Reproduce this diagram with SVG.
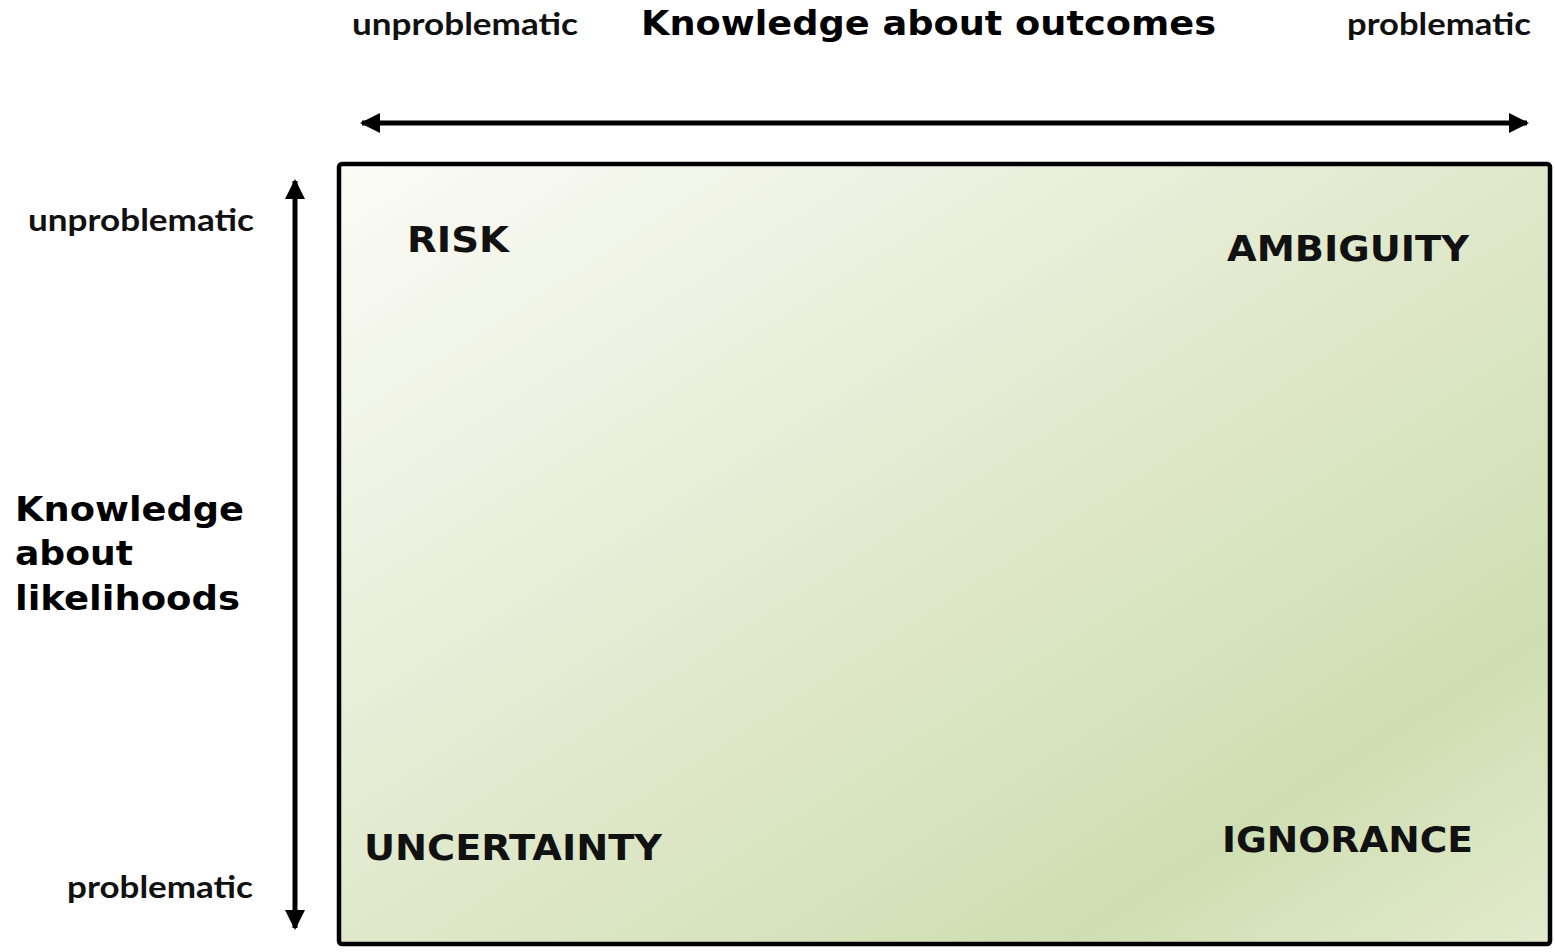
<svg xmlns="http://www.w3.org/2000/svg" width="1555" height="952" viewBox="0 0 1555 952">
<style>
.lbl{font-family:"Lato","Open Sans",sans-serif;font-weight:bold;font-size:31px;fill:#111}
.ttl{font-family:"DejaVu Sans","Verdana",sans-serif;font-weight:bold;font-size:34px;fill:#000}
.q{font-family:"DejaVu Sans","Verdana",sans-serif;font-weight:bold;font-size:35px;fill:#111}
.ax{stroke:#000;stroke-width:5;fill:none}
</style>
<defs>
<linearGradient id="g" x1="0" y1="0" x2="1" y2="1">
<stop offset="0" stop-color="#fbfbf7"/>
<stop offset="0.45" stop-color="#e2eacf"/>
<stop offset="0.8" stop-color="#cfdeb2"/>
<stop offset="1" stop-color="#e2eacd"/>
</linearGradient>
<marker id="ah" viewBox="0 0 10 10" refX="9" refY="5" markerWidth="4" markerHeight="4" orient="auto-start-reverse" markerUnits="strokeWidth">
<path d="M0,0 L10,5 L0,10 Z" fill="#000"/>
</marker>
</defs>
<g id="matrix">
<rect x="339" y="164" width="1211" height="780" rx="3" fill="url(#g)" stroke="#000" stroke-width="4.5"/>
</g>
<g id="connectors">
<line class="ax" x1="362" y1="123" x2="1527" y2="123" marker-start="url(#ah)" marker-end="url(#ah)"/>
<line class="ax" x1="295" y1="181" x2="295" y2="928" marker-start="url(#ah)" marker-end="url(#ah)"/>
</g>
<g id="top-labels">
<text class="lbl" x="352" y="35" textLength="226" lengthAdjust="spacingAndGlyphs">unproblematic</text>
<text class="ttl" x="641" y="35" textLength="575" lengthAdjust="spacingAndGlyphs">Knowledge about outcomes</text>
<text class="lbl" x="1347" y="35" textLength="184" lengthAdjust="spacingAndGlyphs">problematic</text>
</g>
<g id="left-labels">
<text class="lbl" x="28" y="231" textLength="226" lengthAdjust="spacingAndGlyphs">unproblematic</text>
<text class="ttl" x="15" y="521" textLength="229" lengthAdjust="spacingAndGlyphs">Knowledge</text>
<text class="ttl" x="15" y="565" textLength="118" lengthAdjust="spacingAndGlyphs">about</text>
<text class="ttl" x="15" y="610" textLength="225" lengthAdjust="spacingAndGlyphs">likelihoods</text>
<text class="lbl" x="67" y="898" textLength="186" lengthAdjust="spacingAndGlyphs">problematic</text>
</g>
<g id="risk"><text class="q" x="407" y="252" textLength="102" lengthAdjust="spacingAndGlyphs">RISK</text></g>
<g id="ambiguity"><text class="q" x="1227" y="261" textLength="242" lengthAdjust="spacingAndGlyphs">AMBIGUITY</text></g>
<g id="uncertainty"><text class="q" x="364" y="860" textLength="298" lengthAdjust="spacingAndGlyphs">UNCERTAINTY</text></g>
<g id="ignorance"><text class="q" x="1222" y="852" textLength="251" lengthAdjust="spacingAndGlyphs">IGNORANCE</text></g>
</svg>
